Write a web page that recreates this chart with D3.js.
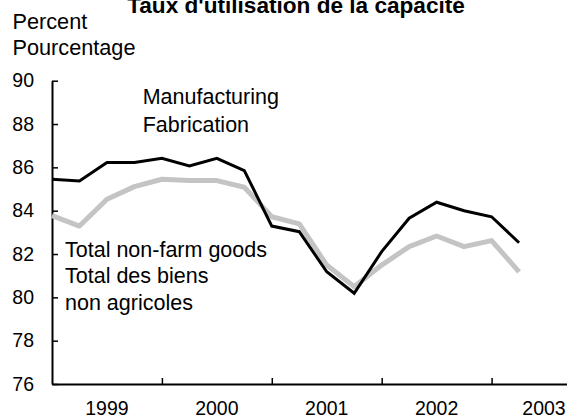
<!DOCTYPE html>
<html>
<head>
<meta charset="utf-8">
<script src="https://cdn.jsdelivr.net/npm/d3@7/dist/d3.min.js"></script>
<style>
  html, body { margin: 0; padding: 0; background: #fff; }
  svg { display: block; font-family: "Liberation Sans", Arial, sans-serif; }
</style>
</head>
<body>
<svg id="chart" width="567" height="418"></svg>
<script>
// Quarterly data, 1999Q1 .. 2003Q2 (index 0..17)
const years = ["1999", "2000", "2001", "2002", "2003"];
const manufacturing = [85.45, 85.37, 86.22, 86.22, 86.42, 86.06, 86.42, 85.85,
                       83.29, 83.03, 81.18, 80.19, 82.11, 83.65, 84.39, 84.0, 83.72, 82.52];
const nonFarmGoods = [83.77, 83.29, 84.53, 85.11, 85.45, 85.39, 85.39, 85.08,
                      83.72, 83.39, 81.49, 80.49, 81.49, 82.34, 82.83, 82.34, 82.62, 81.18];
const yTicks = [76, 78, 80, 82, 84, 86, 88, 90];
const yearTickIdx = [4, 8, 12, 16];      // year boundaries (quarter index)
const yearLabelIdx = [2, 6, 10, 14, 18]; // mid-year positions

const W = 567;
const svg = d3.select("#chart");
const x = d3.scaleLinear().domain([0, 19]).range([52, 574]);
const y = d3.scaleLinear().domain([76, 90]).range([384, 80.7]);

// Title (partially cut at the top, as in the reference)
svg.append("text").attr("x", 296).attr("y", 13).attr("text-anchor", "middle")
  .attr("font-weight", "bold").attr("font-size", "22.6px").text("Taux d'utilisation de la capacité");

svg.append("text").attr("x", 12.5).attr("y", 29.3).attr("font-size", "21.7px").text("Percent");
svg.append("text").attr("x", 12.5).attr("y", 55).attr("font-size", "21.7px").text("Pourcentage");

// Y axis
const yAxis = d3.axisLeft(y).tickValues(yTicks).tickSize(-6).tickSizeOuter(0).tickPadding(18)
  .tickFormat(d3.format("d"));
const gy = svg.append("g").attr("transform", "translate(52,0)").call(yAxis);
gy.select(".domain").attr("stroke", "#000").attr("stroke-width", 2);
gy.selectAll(".tick line").attr("stroke", "#000").attr("stroke-width", 1.5);
gy.selectAll(".tick text").attr("font-size", "19.5px").attr("fill", "#000")
  .attr("font-family", "'Liberation Sans', Arial, sans-serif");

// X axis
const xAxis = d3.axisBottom(x).tickValues(yearTickIdx).tickSize(-6).tickSizeOuter(0).tickFormat("");
const gx = svg.append("g").attr("transform", "translate(0,384)").call(xAxis);
gx.select(".domain").attr("stroke", "#000").attr("stroke-width", 2);
gx.selectAll(".tick line").attr("stroke", "#000").attr("stroke-width", 1.5);

svg.append("g").selectAll("text").data(yearLabelIdx).join("text")
  .attr("x", d => Math.min(x(d), W - 23)).attr("y", 415).attr("text-anchor", "middle")
  .attr("font-size", "19.5px").text((d, i) => years[i]);

// Lines
const line = d3.line().x((d, i) => x(i)).y(d => y(d));
svg.append("path").datum(nonFarmGoods).attr("d", line)
  .attr("fill", "none").attr("stroke", "#c4c4c4").attr("stroke-width", 5).attr("stroke-linejoin", "round");
svg.append("path").datum(manufacturing).attr("d", line)
  .attr("fill", "none").attr("stroke", "#000").attr("stroke-width", 3).attr("stroke-linejoin", "miter");

// Series labels
const lbl = (t, px, py) => svg.append("text").attr("x", px).attr("y", py).attr("font-size", "21.5px").text(t);
lbl("Manufacturing", 142.7, 104);
lbl("Fabrication", 142.7, 131.5);
lbl("Total non-farm goods", 65, 256.7);
lbl("Total des biens", 65, 283.3);
lbl("non agricoles", 65, 310);
</script>
</body>
</html>
